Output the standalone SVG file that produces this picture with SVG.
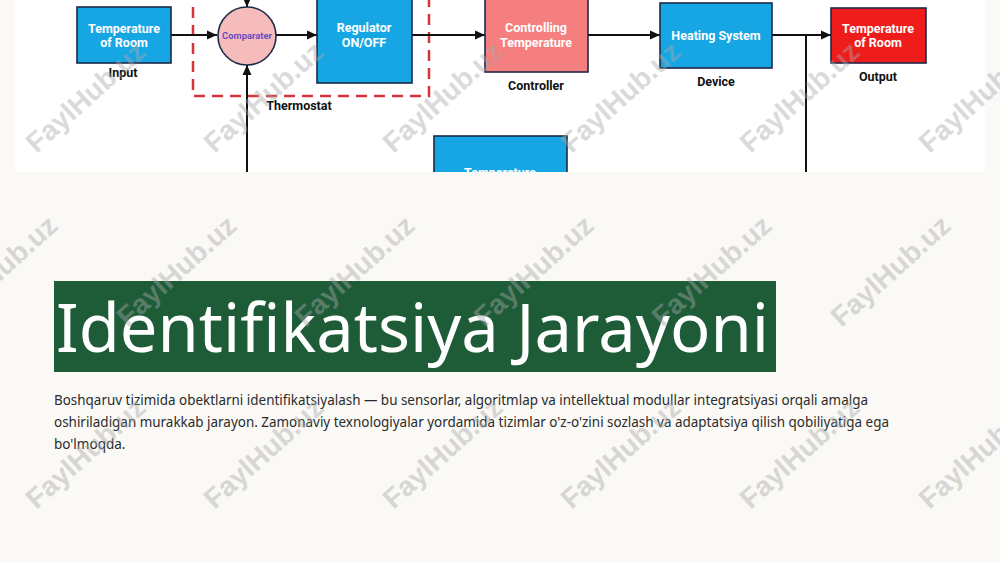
<svg xmlns="http://www.w3.org/2000/svg" width="1000" height="563" viewBox="0 0 1000 563">
<style>
.box{stroke:#1c2a48;stroke-width:1.6}
.blue{fill:#17a6e4}
.bt{font-family:Roboto,"Liberation Sans",sans-serif;font-weight:bold;font-size:12.5px;fill:#fff;text-anchor:middle}
.lb{font-family:Roboto,"Liberation Sans",sans-serif;font-weight:bold;font-size:12.5px;fill:#111;text-anchor:middle}
.ln{stroke:#111;stroke-width:2;fill:none}
.wm{font-family:"Liberation Sans",Arial,sans-serif;font-weight:bold;font-size:28px;fill:#a8a8a8;opacity:0.42;text-anchor:middle}
.p{font-family:"Noto Sans","Open Sans",sans-serif;font-size:13.5px;fill:#2b2b2b}
</style>
<defs>
<marker id="ah" viewBox="0 0 10 10" refX="10" refY="5" markerWidth="10" markerHeight="10" markerUnits="userSpaceOnUse" orient="auto">
<path d="M0,0.5 L10,5 L0,9.5 Z" fill="#111"/>
</marker>
<clipPath id="img"><rect x="15" y="0" width="970" height="172"/></clipPath>
</defs>
<rect width="1000" height="563" fill="#faf9f6"/>
<g id="diagram" clip-path="url(#img)">
<rect x="15" y="0" width="970" height="172" fill="#ffffff"/>
<g id="thermostat">
<rect x="193" y="-20" width="236" height="116" fill="none" stroke="#d4343a" stroke-width="2.5" stroke-dasharray="11 7"/>
<text class="lb" x="299" y="110">Thermostat</text>
</g>
<g id="connectors">
<line class="ln" x1="171" y1="35" x2="217" y2="35" marker-end="url(#ah)"/>
<line class="ln" x1="247" y1="-10" x2="247" y2="7" marker-end="url(#ah)"/>
<line class="ln" x1="247" y1="175" x2="247" y2="65" marker-end="url(#ah)"/>
<line class="ln" x1="276" y1="35" x2="317" y2="35" marker-end="url(#ah)"/>
<line class="ln" x1="412" y1="35" x2="485" y2="35" marker-end="url(#ah)"/>
<line class="ln" x1="588" y1="35" x2="660" y2="35" marker-end="url(#ah)"/>
<line class="ln" x1="772" y1="35" x2="831" y2="35" marker-end="url(#ah)"/>
<line class="ln" x1="806" y1="35" x2="806" y2="175"/>
</g>
<g id="input">
<rect class="box blue" x="77" y="7" width="94" height="56"/>
<text class="bt" x="124" y="33">Temperature</text>
<text class="bt" x="124" y="47">of Room</text>
<text class="lb" x="123" y="77">Input</text>
</g>
<g id="comparator">
<circle class="box" cx="247" cy="36" r="29" fill="#f6bcbc"/>
<text x="247" y="39" text-anchor="middle" font-family="Roboto,'Liberation Sans',sans-serif" font-weight="bold" font-size="9.4" fill="#6a4cc4">Comparater</text>
</g>
<g id="regulator">
<rect class="box blue" x="317" y="-10" width="95" height="93"/>
<text class="bt" x="364" y="32">Regulator</text>
<text class="bt" x="364" y="47">ON/OFF</text>
</g>
<g id="controller">
<rect class="box" x="485" y="-10" width="103" height="82" fill="#f57e7e"/>
<text class="bt" x="536" y="32">Controlling</text>
<text class="bt" x="536" y="47">Temperature</text>
<text class="lb" x="536" y="90">Controller</text>
</g>
<g id="device">
<rect class="box blue" x="660" y="3" width="112" height="65"/>
<text class="bt" x="716" y="40">Heating System</text>
<text class="lb" x="716" y="86">Device</text>
</g>
<g id="output">
<rect class="box" x="831" y="8" width="95" height="55" fill="#ef1c1c"/>
<text class="bt" x="878" y="33">Temperature</text>
<text class="bt" x="878" y="47">of Room</text>
<text class="lb" x="878" y="81">Output</text>
</g>
<g id="sensor">
<rect class="box blue" x="434" y="136" width="133" height="60"/>
<text class="bt" x="500" y="177">Temperature</text>
</g>
</g>
<g id="title">
<rect x="54" y="281" width="722" height="91" fill="#1e5c38"/>
<text x="56" y="352" font-family="'Noto Sans','Open Sans',sans-serif" font-size="68" fill="#ffffff" textLength="713" lengthAdjust="spacingAndGlyphs">Identifikatsiya Jarayoni</text>
</g>
<g id="paragraph">
<text class="p" x="54" y="405" textLength="814" lengthAdjust="spacingAndGlyphs">Boshqaruv tizimida obektlarni identifikatsiyalash — bu sensorlar, algoritmlap va intellektual modullar integratsiyasi orqali amalga</text>
<text class="p" x="54" y="427" textLength="835" lengthAdjust="spacingAndGlyphs">oshiriladigan murakkab jarayon. Zamonaviy texnologiyalar yordamida tizimlar o'z-o'zini sozlash va adaptatsiya qilish qobiliyatiga ega</text>
<text class="p" x="54" y="449">bo'lmoqda.</text>
</g>
<g id="watermarks">
<text class="wm" transform="translate(92,104) rotate(-42)">FaylHub.uz</text>
<text class="wm" transform="translate(270,104) rotate(-42)">FaylHub.uz</text>
<text class="wm" transform="translate(449,104) rotate(-42)">FaylHub.uz</text>
<text class="wm" transform="translate(627,104) rotate(-42)">FaylHub.uz</text>
<text class="wm" transform="translate(806,104) rotate(-42)">FaylHub.uz</text>
<text class="wm" transform="translate(985,104) rotate(-42)">FaylHub.uz</text>
<text class="wm" transform="translate(4,278) rotate(-42)">FaylHub.uz</text>
<text class="wm" transform="translate(183,278) rotate(-42)">FaylHub.uz</text>
<text class="wm" transform="translate(361,278) rotate(-42)">FaylHub.uz</text>
<text class="wm" transform="translate(540,278) rotate(-42)">FaylHub.uz</text>
<text class="wm" transform="translate(718,278) rotate(-42)">FaylHub.uz</text>
<text class="wm" transform="translate(897,278) rotate(-42)">FaylHub.uz</text>
<text class="wm" transform="translate(92,460) rotate(-42)">FaylHub.uz</text>
<text class="wm" transform="translate(270,460) rotate(-42)">FaylHub.uz</text>
<text class="wm" transform="translate(449,460) rotate(-42)">FaylHub.uz</text>
<text class="wm" transform="translate(627,460) rotate(-42)">FaylHub.uz</text>
<text class="wm" transform="translate(806,460) rotate(-42)">FaylHub.uz</text>
<text class="wm" transform="translate(985,460) rotate(-42)">FaylHub.uz</text>
</g>
</svg>
